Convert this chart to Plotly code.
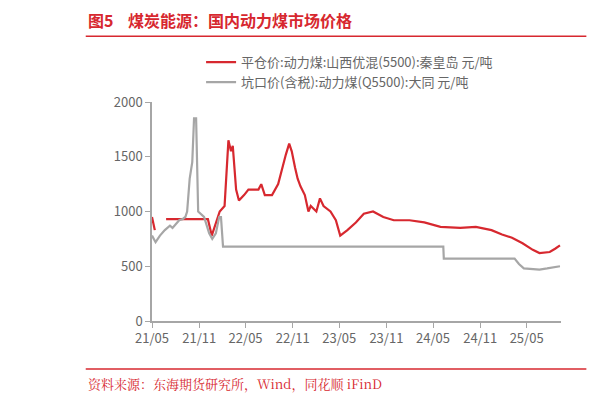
import plotly.graph_objects as go

red_dates = ["2021-05-01", "2021-05-12", "2021-05-20", "2021-06-25", "2021-12-05", "2021-12-20",
             "2022-01-05", "2022-01-20", "2022-02-08", "2022-02-23", "2022-03-05", "2022-03-12",
             "2022-03-25", "2022-04-05", "2022-04-25", "2022-05-12", "2022-06-20", "2022-07-01",
             "2022-07-15", "2022-08-12", "2022-09-05", "2022-09-20", "2022-10-05", "2022-10-18",
             "2022-10-28", "2022-11-10", "2022-11-20", "2022-12-01", "2022-12-18", "2023-01-01",
             "2023-01-10", "2023-02-01", "2023-02-15", "2023-03-01", "2023-03-28", "2023-04-18",
             "2023-05-05", "2023-06-02", "2023-07-05", "2023-08-05", "2023-09-10", "2023-10-20",
             "2023-11-30", "2024-01-30", "2024-03-28", "2024-05-30", "2024-08-15", "2024-10-15",
             "2024-12-15", "2025-01-25", "2025-03-05", "2025-04-15", "2025-05-25", "2025-06-20",
             "2025-07-30", "2025-08-20", "2025-09-08"]
red_vals = [950, 830, None, 930, 930, 780,
            900, 1000, 1050, 1650, 1550, 1600,
            1200, 1100, 1150, 1200, 1200, 1250,
            1150, 1150, 1250, 1400, 1520, 1620,
            1550, 1400, 1300, 1230, 1150, 1000,
            1050, 1000, 1120, 1050, 1000, 920,
            780, 830, 900, 980, 1000, 950,
            920, 920, 900, 860, 850, 860,
            830, 790, 760, 710, 650, 620,
            630, 660, 690]

gray_dates = ["2021-05-01", "2021-05-15", "2021-06-01", "2021-06-20", "2021-07-10", "2021-07-20",
              "2021-08-15", "2021-08-28", "2021-09-08", "2021-09-15", "2021-09-25", "2021-10-05",
              "2021-10-12", "2021-10-20", "2021-10-28", "2021-11-20", "2021-12-10", "2021-12-22",
              "2022-01-05", "2022-01-18", "2022-01-25", "2022-02-02", "2024-06-10", "2024-06-12",
              "2025-03-15", "2025-04-01", "2025-04-20", "2025-06-20", "2025-07-20", "2025-09-08"]
gray_vals = [780, 720, 780, 830, 870, 850,
             920, 930, 950, 1000, 1300, 1450,
             1850, 1850, 1000, 950, 800, 750,
             800, 950, 950, 680, 680, 570,
             570, 520, 480, 470, 480, 500]

RED = "#d7282f"
fig = go.Figure()
fig.add_trace(go.Scatter(x=red_dates, y=red_vals, mode="lines", connectgaps=False,
                         line=dict(color=RED, width=2.2),
                         name="平仓价:动力煤:山西优混(5500):秦皇岛 元/吨"))
fig.add_trace(go.Scatter(x=gray_dates, y=gray_vals, mode="lines",
                         line=dict(color="#a6a6a6", width=2.2),
                         name="坑口价(含税):动力煤(Q5500):大同 元/吨"))

fig.update_layout(
    width=611, height=402, paper_bgcolor="white", plot_bgcolor="white",
    margin=dict(l=144, r=58, t=94, b=89, autoexpand=False),
    font=dict(family="Noto Sans CJK SC", color="#666666", size=12),
    legend=dict(x=0.12, y=1.25, xanchor="left", yanchor="top", font=dict(size=13, color="#666666"),
                bgcolor="rgba(0,0,0,0)", itemwidth=30, tracegroupgap=2),
    xaxis=dict(type="date", range=["2021-05-01", "2025-09-12"], tick0="2021-05-01", dtick="M6",
               tickformat="%y/%m", showgrid=False, showline=True, linecolor="#a6a6a6",
               linewidth=1.5, ticks="outside", ticklen=5, tickcolor="#a6a6a6",
               tickfont=dict(size=13, color="#666666")),
    yaxis=dict(range=[0, 2000], dtick=500, showgrid=False, showline=True, linecolor="#a6a6a6",
               linewidth=1.5, ticks="outside", ticklen=5, tickcolor="#a6a6a6",
               tickfont=dict(size=13, color="#666666"), zeroline=False),
    shapes=[
        dict(type="line", xref="paper", yref="paper", x0=-0.162, x1=1.062, y0=1.3, y1=1.3,
             line=dict(color=RED, width=1.5)),
        dict(type="line", xref="paper", yref="paper", x0=-0.162, x1=1.062, y0=-0.219, y1=-0.219,
             line=dict(color=RED, width=1.5)),
    ],
    annotations=[
        dict(text="<b>图5    煤炭能源：国内动力煤市场价格</b>", xref="paper", yref="paper",
             x=-0.162, y=1.31, xanchor="left", yanchor="bottom", showarrow=False,
             font=dict(size=16, color=RED)),
        dict(text="资料来源：东海期货研究所，Wind，同花顺 iFinD", xref="paper", yref="paper",
             x=-0.162, y=-0.235, xanchor="left", yanchor="top", showarrow=False,
             font=dict(size=13, color=RED, family="Noto Serif CJK SC, Noto Sans CJK SC")),
    ],
)

fig.write_html("out.html")
